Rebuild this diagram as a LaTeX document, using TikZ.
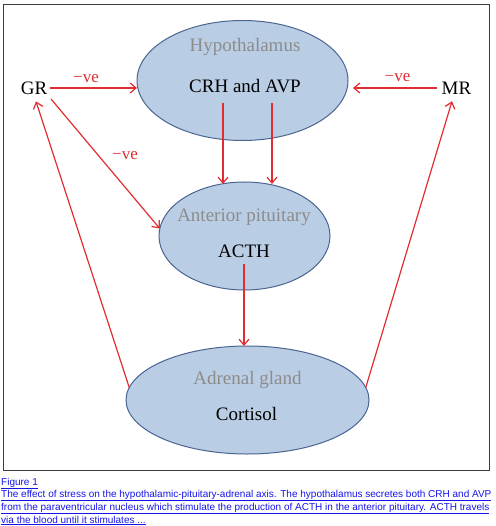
\documentclass[tikz,border=0pt]{standalone}
\usepackage{fontspec}
\setmainfont{Liberation Serif}
\newfontfamily\capfont{Liberation Sans}
\usetikzlibrary{shapes.geometric,arrows.meta}
\definecolor{ellfill}{RGB}{185,205,228}
\definecolor{elldraw}{RGB}{75,100,145}
\definecolor{arrred}{RGB}{225,45,50}
\definecolor{lblgray}{RGB}{140,140,140}
\definecolor{caplink}{RGB}{20,20,235}
\definecolor{framegray}{RGB}{60,60,60}
\begin{document}
\begin{tikzpicture}[x=1pt,y=-1pt,
  organ/.style={ellipse, draw=elldraw, fill=ellfill, line width=1pt, inner sep=0pt, outer sep=0pt},
  organtitle/.style={anchor=base, text=lblgray, font=\fontsize{19}{19}\selectfont, inner sep=0pt},
  hormone/.style={anchor=base, text=black, font=\fontsize{19}{19}\selectfont, inner sep=0pt},
  recep/.style={anchor=base, text=black, font=\fontsize{19}{19}\selectfont, inner sep=0pt},
  neg/.style={anchor=base, text=arrred, font=\fontsize{17}{17}\selectfont, inner sep=0pt},
  link/.style={draw=arrred, line width=1.2pt, -{Straight Barb[length=6pt,width=10pt]}},
  capline/.style={anchor=base west, text=caplink, font=\capfont\fontsize{10}{10}\selectfont, inner sep=0pt}
]
\useasboundingbox (0,0) rectangle (495,526);
\draw[framegray, line width=1pt] (3.5,4.5) rectangle (489.5,470.5);

% organs
\node[organ, minimum width=211pt, minimum height=120pt] (hyp) at (242.5,80.5) {};
\node[organ, minimum width=171pt, minimum height=108pt] (pit) at (244.5,236) {};
\node[organ, minimum width=243pt, minimum height=108pt] (adr) at (247.5,400) {};

% texts
\node[organtitle] (hyptitle) at (245,52) {Hypothalamus};
\node[hormone] (crh) at (245,93) {CRH and AVP};
\node[organtitle] (pittitle) at (244,222) {Anterior pituitary};
\node[hormone] (acth) at (244,257) {ACTH};
\node[organtitle] (adrtitle) at (247.5,384) {Adrenal gland};
\node[hormone] (cort) at (246.5,420) {Cortisol};
\node[recep] (gr) at (34,95) {GR};
\node[recep] (mr) at (456.5,95) {MR};

% connectors
\coordinate (grE) at (50,88);
\coordinate (mrW) at (437,88);
\draw[link] (grE) -- (grE -| hyp.west);
\draw[link] (mrW) -- ([xshift=5pt]mrW -| hyp.east);
\coordinate (c1) at (223,103);
\coordinate (c2) at (272,103);
\draw[link] (c1) -- ([yshift=-2pt]c1 |- pit.north);
\draw[link] (c2) -- ([yshift=-2pt]c2 |- pit.north);
\draw[link] (51,99) -- (pit.175);
\coordinate (a1) at (244,264);
\draw[link] (a1) -- (a1 |- adr.north);
\draw[link] (adr.174) -- ([xshift=2pt,yshift=-6pt]gr.south);
\draw[link] (adr.6) -- ([xshift=-4.5pt,yshift=-6pt]mr.south);

% labels
\node[neg] (n1) at (86,83) {\char"2212 ve};
\node[neg] (n2) at (397.5,82) {\char"2212 ve};
\node[neg] (n3) at (125,160) {\char"2212 ve};

% caption
\node[capline] (cap0) at (1,485) {\underline{Figure 1}};
\node[capline] (cap1) at (1,497) {\underline{The effect of stress on the hypothalamic-pituitary-adrenal axis. The hypothalamus secretes both CRH and AVP}};
\node[capline] (cap2) at (1,510) {\underline{from the paraventricular nucleus which stimulate the production of ACTH in the anterior pituitary. ACTH travels}};
\node[capline] (cap3) at (1,523) {\underline{via the blood until it stimulates ...}};
\end{tikzpicture}
\end{document}
